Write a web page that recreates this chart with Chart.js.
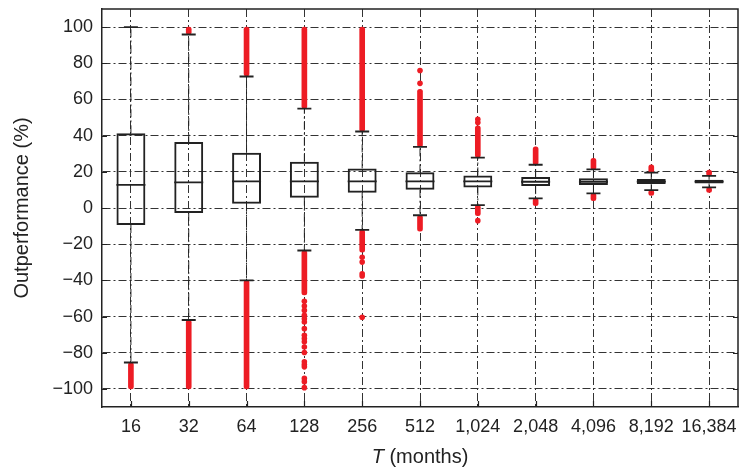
<!DOCTYPE html>
<html>
<head>
<meta charset="utf-8">
<script src="https://cdn.jsdelivr.net/npm/chart.js@4.4.0/dist/chart.umd.min.js"></script>
<style>
  html, body { margin: 0; padding: 0; background: #fff; }
</style>
</head>
<body>
<canvas id="chart" width="741" height="472"></canvas>
<script>
// Categories and tick values
const horizons = ['16', '32', '64', '128', '256', '512', '1,024', '2,048', '4,096', '8,192', '16,384'];
const yTicks = [-100, -80, -60, -40, -20, 0, 20, 40, 60, 80, 100];

// Box plot statistics
const q1 = [-9.4, -2.8, 2.4, 5.7, 8.4, 10.1, 11.4, 12.1, 12.7, 13.2, 13.6];
const median = [12.8, 14.2, 14.7, 14.7, 14.7, 14.7, 14.7, 14.5, 14.5, 14.6, 14.6];
const q3 = [41.3, 36.5, 30.5, 25.5, 21.9, 19.7, 18.0, 17.1, 16.5, 16.0, 15.6];
const whiskerHigh = [100, 95.9, 72.7, 54.9, 42.3, 33.8, 27.9, 23.9, 21.3, 19.5, 17.8];
const whiskerLow = [-85.4, -61.9, -40, -23.5, -12.1, -4.0, 1.6, 5.3, 8.1, 9.9, 11.4];

// Dense outlier runs [from, to], null where there is none
const outHigh = [null, [96, 100], [73, 100], [55, 100], [42.3, 100], [33.8, 65.6], [27.9, 45.4], [23.9, 33.8], [21.3, 27.5], [19.5, 23.9], [17.8, 20.9]];
const outLow = [[-100, -85.4], [-100, -61.9], [-100, -40], [-48, -23.5], [-24.4, -12.1], [-12.8, -4.0], [-4.2, 1.6], [1.3, 5.3], [4.0, 8.1], [7.0, 9.9], [8.6, 11.4]];

// Isolated outliers
const sparse128 = [-51.6, -54.2, -56.6, -59.3, -61.2, -63, -66.7, -70.4, -72.2, -74, -76.8, -79.9, -85, -86.5, -87.8, -94.2, -96, -99.3];
const sparse256 = [-27.2, -29.9, -36.4, -37.6, -60.4];
const sparse512 = [68.9, 76.0];
const sparse1024 = [47.2, 49, -7];

const red = '#ed1c24';
const ink = '#222222';
const font = '"Liberation Sans", Arial, sans-serif';

let sparsePts = [];
sparse128.forEach(v => sparsePts.push({x: '128', y: v}));
sparse256.forEach(v => sparsePts.push({x: '256', y: v}));
sparse512.forEach(v => sparsePts.push({x: '512', y: v}));
sparse1024.forEach(v => sparsePts.push({x: '1,024', y: v}));

let whiskerPts = [];
horizons.forEach((h, i) => {
    whiskerPts.push({x: h, y: q3[i]}, {x: h, y: whiskerHigh[i]}, {x: h, y: null});
    whiskerPts.push({x: h, y: q1[i]}, {x: h, y: whiskerLow[i]}, {x: h, y: null});
});

// Frame on top/right, inward ticks, and the x title with an italic T
const framePlugin = {
    id: 'frame',
    afterDraw(chart) {
        const ctx = chart.ctx;
        const a = chart.chartArea;
        const xs = chart.scales.x, ys = chart.scales.y;
        ctx.save();
        ctx.strokeStyle = ink;
        ctx.lineWidth = 1.5;
        ctx.beginPath();
        ctx.moveTo(a.left, a.top);
        ctx.lineTo(a.right, a.top);
        ctx.lineTo(a.right, a.bottom);
        ctx.stroke();
        ctx.lineWidth = 1.2;
        ctx.beginPath();
        horizons.forEach((h, i) => {
            const px = Math.round(xs.getPixelForValue(i)) + 0.5;
            ctx.moveTo(px, a.bottom);
            ctx.lineTo(px, a.bottom - 6);
        });
        yTicks.forEach(v => {
            const py = Math.round(ys.getPixelForValue(v)) + 0.5;
            ctx.moveTo(a.left, py);
            ctx.lineTo(a.left + 5, py);
            ctx.moveTo(a.right, py);
            ctx.lineTo(a.right - 5, py);
        });
        ctx.stroke();

        ctx.fillStyle = '#222';
        ctx.textBaseline = 'middle';
        ctx.textAlign = 'left';
        const fItalic = 'italic 20px ' + font, fNormal = '20px ' + font;
        ctx.font = fItalic;
        const w1 = ctx.measureText('T').width;
        ctx.font = fNormal;
        const w2 = ctx.measureText(' (months)').width;
        const x0 = (a.left + a.right) / 2 - (w1 + w2) / 2;
        ctx.font = fItalic;
        ctx.fillText('T', x0, 457);
        ctx.font = fNormal;
        ctx.fillText(' (months)', x0 + w1, 457);
        ctx.restore();
    }
};

new Chart(document.getElementById('chart'), {
    type: 'bar',
    data: {
        labels: horizons,
        datasets: [
            {
                type: 'line', label: 'caps high', data: whiskerHigh, showLine: false,
                pointStyle: 'line', pointRadius: 7, pointBorderColor: ink, pointBorderWidth: 1.8
            },
            {
                type: 'line', label: 'caps low', data: whiskerLow, showLine: false,
                pointStyle: 'line', pointRadius: 7, pointBorderColor: ink, pointBorderWidth: 1.8
            },
            {
                type: 'line', label: 'median', data: median, showLine: false,
                pointStyle: 'line', pointRadius: 14.5, pointBorderColor: ink, pointBorderWidth: 1.8
            },
            {
                label: 'box', data: horizons.map((h, i) => [q1[i], q3[i]]), grouped: false,
                barPercentage: 0.5, categoryPercentage: 1,
                backgroundColor: 'rgba(0,0,0,0)', borderColor: ink, borderWidth: 2, borderSkipped: false
            },
            {
                type: 'line', label: 'whiskers', data: whiskerPts, spanGaps: false,
                borderColor: ink, borderWidth: 1, borderDash: [8, 3, 2, 3], pointRadius: 0
            },
            {
                type: 'line', label: 'sparse outliers', data: sparsePts, showLine: false,
                pointStyle: 'circle', pointRadius: 2.8, pointBackgroundColor: red, pointBorderWidth: 0
            },
            {
                label: 'outliers high', data: outHigh, grouped: false, barThickness: 5,
                backgroundColor: red, borderWidth: 0, borderRadius: 2.5, borderSkipped: false
            },
            {
                label: 'outliers low', data: outLow, grouped: false, barThickness: 5,
                backgroundColor: red, borderWidth: 0, borderRadius: 2.5, borderSkipped: false
            }
        ]
    },
    options: {
        responsive: false,
        animation: false,
        layout: { autoPadding: false, padding: { left: 0, right: 3, top: 9, bottom: 0 } },
        plugins: { legend: { display: false }, tooltip: { enabled: false } },
        scales: {
            x: {
                type: 'category',
                offset: true,
                grid: { offset: false, color: '#333', lineWidth: 1, drawTicks: false },
                border: { display: true, color: ink, width: 1.5, dash: [8, 3, 2, 3] },
                ticks: { color: '#222', padding: 9, font: { family: font, size: 18 }, maxRotation: 0, autoSkip: false },
                afterFit: s => { s.height = 65; s.paddingLeft = 0; s.paddingRight = 0; }
            },
            y: {
                min: -110,
                max: 110,
                grid: { color: '#333', lineWidth: 1, drawTicks: false },
                border: { display: true, color: ink, width: 1.5, dash: [8, 3, 2, 3] },
                ticks: {
                    color: '#222', padding: 9, font: { family: font, size: 18 },
                    callback: v => String(v).replace('-', '\u2212')
                },
                afterBuildTicks: s => { s.ticks = yTicks.map(v => ({ value: v })); },
                title: {
                    display: true, text: 'Outperformance (%)', color: '#222',
                    font: { family: font, size: 20 }, padding: { top: 10, bottom: 0 }
                },
                afterFit: s => { s.width = 102; s.paddingTop = 0; s.paddingBottom = 0; }
            }
        }
    },
    plugins: [framePlugin]
});
</script>
</body>
</html>
